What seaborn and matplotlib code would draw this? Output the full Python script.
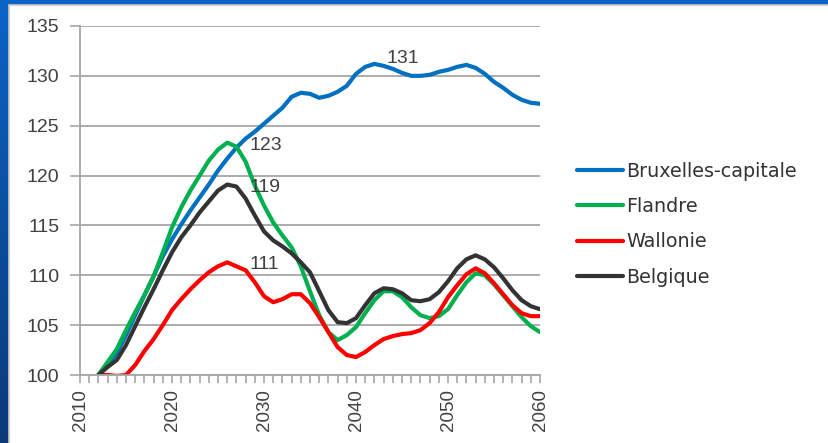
import numpy as np
import pandas as pd
import seaborn as sns
import matplotlib.pyplot as plt
from matplotlib.ticker import MultipleLocator

years = list(range(2012, 2061))

bruxelles = [100.0, 101.0, 102.2, 104.0, 106.0, 108.0, 109.9, 111.9, 113.6, 115.1,
             116.5, 117.8, 119.1, 120.5, 121.7, 122.8, 123.7, 124.4, 125.2, 126.0,
             126.8, 127.9, 128.3, 128.2, 127.8, 128.0, 128.4, 129.0, 130.2, 130.9,
             131.2, 131.0, 130.7, 130.3, 130.0, 130.0, 130.1, 130.4, 130.6, 130.9,
             131.1, 130.8, 130.2, 129.4, 128.8, 128.1, 127.6, 127.3, 127.2]
flandre = [100.0, 101.3, 102.6, 104.5, 106.3, 108.0, 109.9, 112.3, 114.8, 116.8,
           118.5, 120.0, 121.5, 122.6, 123.3, 122.9, 121.4, 119.0, 117.0, 115.3,
           114.0, 112.8, 110.9, 108.4, 106.0, 104.3, 103.5, 104.0, 104.8, 106.2,
           107.5, 108.4, 108.4, 107.8, 106.8, 106.0, 105.7, 105.9, 106.6, 108.0,
           109.3, 110.2, 110.0, 109.1, 108.0, 106.9, 105.8, 104.9, 104.3]
wallonie = [100.0, 100.0, 99.9, 100.0, 101.0, 102.4, 103.6, 105.0, 106.5, 107.6,
            108.6, 109.5, 110.3, 110.9, 111.3, 110.9, 110.5, 109.3, 107.9, 107.3,
            107.6, 108.1, 108.1, 107.2, 105.8, 104.3, 102.8, 102.0, 101.8, 102.3,
            103.0, 103.6, 103.9, 104.1, 104.2, 104.5, 105.2, 106.3, 107.8, 109.0,
            110.1, 110.7, 110.2, 109.2, 108.1, 107.0, 106.2, 105.9, 105.9]
belgique = [100.0, 100.8, 101.5, 103.0, 104.9, 106.8, 108.6, 110.5, 112.3, 113.8,
            115.0, 116.3, 117.4, 118.5, 119.1, 118.9, 117.7, 116.0, 114.4, 113.5,
            112.9, 112.2, 111.3, 110.3, 108.4, 106.5, 105.3, 105.2, 105.7, 107.0,
            108.2, 108.7, 108.6, 108.2, 107.5, 107.4, 107.6, 108.3, 109.4, 110.7,
            111.6, 112.0, 111.6, 110.8, 109.7, 108.5, 107.5, 106.9, 106.6]

regions = ['Bruxelles-capitale', 'Flandre', 'Wallonie', 'Belgique']
colors = ['#0070C0', '#00B050', '#FF0000', '#333333']

# etiquettes des pics
peak_labels = ['131', '123', '119', '111']
peak_pos = [(2043.3, 131.7), (2028.4, 123.0), (2028.4, 118.8), (2028.4, 111.1)]

df = pd.DataFrame({
    'annee': years * 4,
    'valeur': bruxelles + flandre + wallonie + belgique,
    'region': sum([[r] * len(years) for r in regions], []),
})

sns.set_style('white')
plt.rcParams['font.family'] = ['Liberation Sans', 'DejaVu Sans']

fig = plt.figure(figsize=(8.29, 4.43), dpi=100)
ax = fig.add_axes([80 / 829, 68 / 443, 460 / 829, 349 / 443])

sns.lineplot(data=df, x='annee', y='valeur', hue='region', palette=colors,
             hue_order=regions, linewidth=3.0, ax=ax)

for txt, (x, y) in zip(peak_labels, peak_pos):
    ax.text(x, y, txt, fontsize=14, color='#404040', ha='left', va='center')

ax.set_xlim(2010, 2060)
ax.set_ylim(100, 135)
ax.xaxis.set_major_locator(MultipleLocator(10))
ax.xaxis.set_minor_locator(MultipleLocator(1))
ax.yaxis.set_major_locator(MultipleLocator(5))
ax.set_xlabel('')
ax.set_ylabel('')
ax.grid(axis='y', color='#A6A6A6', linewidth=1.3)
ax.set_axisbelow(True)
for s in ['top', 'right']:
    ax.spines[s].set_visible(False)
for s in ['left', 'bottom']:
    ax.spines[s].set_color('#A6A6A6')
    ax.spines[s].set_linewidth(1.3)
ax.tick_params(axis='x', which='both', direction='out', length=6, width=1.2,
               color='#A6A6A6', labelsize=13.5, labelcolor='#404040',
               labelrotation=90, bottom=True, pad=4)
ax.tick_params(axis='y', direction='out', length=7, width=1.2, color='#A6A6A6',
               labelsize=14, labelcolor='#404040', left=True, pad=8)

leg = ax.legend(loc='center left', bbox_to_anchor=(577 / 829, 0.494),
                bbox_transform=fig.transFigure, frameon=False, fontsize=13.8,
                handlelength=2.4, handletextpad=0.15, labelspacing=0.85,
                borderpad=0, borderaxespad=0)
for t in leg.get_texts():
    t.set_family('DejaVu Sans')
    t.set_color('#333333')
for h in leg.get_lines():
    h.set_linewidth(3.0)

# cadre bleu de la diapositive
grad = np.linspace(0, 1, 256).reshape(-1, 1)
cmap = sns.blend_palette(['#0A64C8', '#0A3A78'], as_cmap=True)
side = fig.add_axes([0, 0, 9 / 829, 1])
side.imshow(grad, aspect='auto', cmap=cmap, extent=[0, 1, 0, 1], origin='upper')
side.axis('off')
top = fig.add_axes([0, 1 - 5 / 443, 1, 5 / 443])
top.set_facecolor('#0A64C8')
top.set_xticks([])
top.set_yticks([])
for s in top.spines.values():
    s.set_visible(False)
fig.add_artist(plt.Line2D([9 / 829, 9 / 829], [0, 1 - 5 / 443], color='#C8C8C8',
                          linewidth=1.2))
fig.add_artist(plt.Line2D([9 / 829, 1], [1 - 5 / 443, 1 - 5 / 443], color='#C8C8C8',
                          linewidth=1.2))

fig.savefig('out.png', dpi=100)
